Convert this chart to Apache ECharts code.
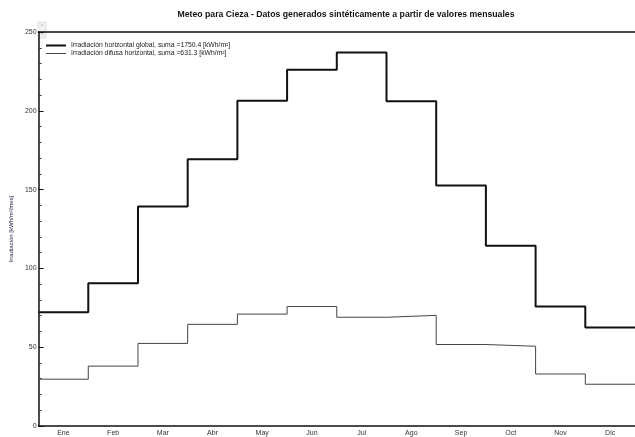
<!DOCTYPE html>
<html>
<head>
<meta charset="utf-8">
<script src="https://cdn.jsdelivr.net/npm/echarts@6/dist/echarts.min.js"></script>
<style>
html,body{margin:0;padding:0;background:#fff;}
#c{width:635px;height:437px;}
</style>
</head>
<body>
<div id="c"></div>
<script>
var months = ['Ene','Feb','Mar','Abr','May','Jun','Jul','Ago','Sep','Oct','Nov','Dic'];
var globalVals = [72.2, 90.5, 139.3, 169.2, 206.3, 226.0, 237.0, 206.0, 152.6, 114.4, 75.8, 62.5];
var diffuseVals = [29.7, 38.0, 52.4, 64.5, 71.0, 75.8, 69.0, 70.2, 51.7, 50.6, 33.0, 26.5];
var yTicks = [0, 50, 100, 150, 200, 250];
var titleText = 'Meteo para Cieza - Datos generados sintéticamente a partir de valores mensuales';
var nameGlobal = 'Irradiación horizontal global, suma =1750.4 [kWh/m²]';
var nameDiffuse = 'Irradiación difusa horizontal, suma =631.3 [kWh/m²]';
var yName = 'Irradiación [kWh/m²/mes]';

// each month value held constant from its start to its end (month index i .. i+1)
function stepData(vals){
  var d = [];
  vals.forEach(function(v,i){ d.push([i, v]); d.push([i+1, v]); });
  return d;
}

var chart = echarts.init(document.getElementById('c'), null, {renderer:'canvas'});
var font = 'Liberation Sans, Arial, sans-serif';
var legendText = {fontFamily:font, fontSize:6.8, color:'#222'};
chart.setOption({
  animation:false,
  backgroundColor:'#fff',
  title:{text:titleText, left:341, textAlign:'center', top:5,
    textStyle:{fontFamily:font, fontSize:8.7, fontWeight:'bold', color:'#111'}},
  legend:[
    {left:46, top:42, padding:0, itemWidth:20, itemHeight:2, icon:'rect', itemGap:0,
      textStyle:legendText, data:[{name:nameGlobal}]},
    {left:46, top:50, padding:0, itemWidth:20, itemHeight:1, icon:'rect', itemGap:0,
      textStyle:legendText, data:[{name:nameDiffuse}]}
  ],
  grid:{left:37, top:32, width:607, height:395},
  xAxis:[
    {type:'category', data:months, boundaryGap:true, position:'bottom', gridIndex:0,
      axisLine:{lineStyle:{color:'#111', width:1.5}},
      axisTick:{inside:true, length:4, interval:0, lineStyle:{color:'#111'}},
      axisLabel:{fontFamily:font, fontSize:7, color:'#333', margin:4, interval:0}},
    {type:'value', min:0, max:12, show:false, gridIndex:0},
    {type:'category', data:months, boundaryGap:true, position:'top', gridIndex:0,
      axisLine:{lineStyle:{color:'#111', width:1.5}},
      axisTick:{inside:true, length:4, interval:0, lineStyle:{color:'#111'}},
      axisLabel:{show:false}}
  ],
  yAxis:{type:'value', min:yTicks[0], max:yTicks[yTicks.length-1], interval:50,
    name:yName, nameLocation:'middle', nameGap:20,
    nameTextStyle:{fontFamily:font, fontSize:6, color:'#224'},
    axisLine:{show:true, lineStyle:{color:'#111', width:1.5}},
    axisTick:{show:true, inside:true, length:5, lineStyle:{color:'#111'}},
    minorTick:{show:true, splitNumber:5, length:3, lineStyle:{color:'#333'}},
    splitLine:{show:false},
    axisLabel:{fontFamily:font, fontSize:7, color:'#333', margin:2}},
  series:[
    {name:nameGlobal, type:'line', xAxisIndex:1, symbol:'none',
      data:stepData(globalVals), lineStyle:{color:'#111', width:2}, itemStyle:{color:'#111'}},
    {name:nameDiffuse, type:'line', xAxisIndex:1, symbol:'none',
      data:stepData(diffuseVals), lineStyle:{color:'#444', width:1}, itemStyle:{color:'#444'}}
  ],
  graphic:[
    {type:'rect', shape:{x:38, y:22, width:8, height:16}, style:{fill:'#f2f2f2', stroke:'#e0e0e0'}},
    {type:'text', x:42, y:26, style:{text:'^', fontSize:6, fill:'#aaa', align:'center', verticalAlign:'middle'}},
    {type:'text', x:42, y:34, style:{text:'v', fontSize:5, fill:'#aaa', align:'center', verticalAlign:'middle'}}
  ]
});
</script>
</body>
</html>
